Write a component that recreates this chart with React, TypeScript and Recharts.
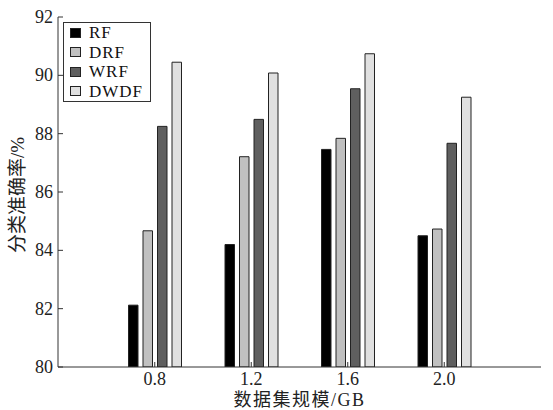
import React from 'react'
import { BarChart, Bar, XAxis, YAxis, Legend } from 'recharts'

const CATEGORIES = ['0.8', '1.2', '1.6', '2.0']
const RF = [82.12, 84.2, 87.46, 84.5]
const DRF = [84.67, 87.21, 87.84, 84.73]
const WRF = [88.25, 88.49, 89.54, 87.67]
const DWDF = [90.45, 90.08, 90.74, 89.25]
const Y_TICKS = [80, 82, 84, 86, 88, 90, 92]

const SERIES = [
  { key: 'RF', fill: '#000000' },
  { key: 'DRF', fill: '#c0c0c0' },
  { key: 'WRF', fill: '#5f5f5f' },
  { key: 'DWDF', fill: '#e0e0e0' },
]

const data = CATEGORIES.map((size, i) => ({
  size,
  RF: RF[i],
  DRF: DRF[i],
  WRF: WRF[i],
  DWDF: DWDF[i],
}))

const FONT = '"Liberation Serif", "Noto Sans CJK SC", serif'
const AXIS = '#333'

// ticks point inward, labels sit outside
function YTick(props: any) {
  const { x, y, payload } = props
  return (
    <g>
      <line x1={x} y1={y} x2={x + 5} y2={y} stroke={AXIS} />
      <text x={x - 5} y={y} dy={6} textAnchor="end" fontSize={18} fontFamily={FONT} fill="#222">
        {payload.value}
      </text>
    </g>
  )
}

function XTick(props: any) {
  const { x, y, payload } = props
  return (
    <g>
      <line x1={x} y1={y} x2={x} y2={y - 5} stroke={AXIS} />
      <text x={x} y={y} dy={18} textAnchor="middle" fontSize={18} fontFamily={FONT} fill="#222">
        {payload.value}
      </text>
    </g>
  )
}

function LegendBox() {
  return (
    <div
      style={{
        border: '1px solid #333',
        background: '#fff',
        padding: '0 7px 0 6px',
        fontFamily: FONT,
        fontSize: 17,
        lineHeight: '19.5px',
        letterSpacing: 1,
        color: '#111',
      }}
    >
      {SERIES.map((s) => (
        <div key={s.key} style={{ display: 'flex', alignItems: 'center', height: 19.5 }}>
          <span
            style={{
              width: 9,
              height: 8,
              background: s.fill,
              border: '1px solid #222',
              marginRight: 8,
              display: 'inline-block',
            }}
          />
          <span>{s.key}</span>
        </div>
      ))}
    </div>
  )
}

export default function App() {
  return (
    <div style={{ position: 'absolute', left: 0, top: 0, background: '#fff' }}>
      <BarChart
        width={553}
        height={410}
        data={data}
        margin={{ top: 17, right: 12, left: 0, bottom: 0 }}
        barSize={9.5}
        barGap={5}
      >
        <XAxis
          dataKey="size"
          height={43}
          padding={{ left: 48.5, right: 48.5 }}
          tickSize={0}
          tickMargin={0}
          tickLine={false}
          axisLine={{ stroke: AXIS }}
          tick={<XTick />}
          label={{
            value: '数据集规模/GB',
            position: 'insideBottom',
            offset: 0,
            dy: -4,
            fontSize: 18,
            fontFamily: FONT,
            fill: '#222',
            style: { letterSpacing: 1.5 },
          }}
        />
        <XAxis xAxisId="top" dataKey="size" orientation="top" height={0} tick={false} tickLine={false} axisLine={{ stroke: AXIS }} />
        <YAxis
          width={58}
          domain={[80, 92]}
          ticks={Y_TICKS}
          allowDataOverflow
          tickSize={0}
          tickMargin={0}
          tickLine={false}
          axisLine={{ stroke: AXIS }}
          tick={<YTick />}
          label={{
            value: '分类准确率/%',
            angle: -90,
            position: 'insideLeft',
            offset: 0,
            dx: 17,
            dy: 3,
            fontSize: 19,
            fontFamily: FONT,
            fill: '#222',
            style: { textAnchor: 'middle' },
          }}
        />
        <YAxis yAxisId="right" orientation="right" width={0} domain={[80, 92]} tick={false} tickLine={false} axisLine={{ stroke: AXIS }} />
        <Legend
          layout="vertical"
          align="center"
          verticalAlign="middle"
          content={<LegendBox />}
          wrapperStyle={{ left: 63, top: 22, width: 'auto' }}
        />
        {SERIES.map((s) => (
          <Bar key={s.key} dataKey={s.key} fill={s.fill} stroke="#222" strokeWidth={1} isAnimationActive={false} />
        ))}
      </BarChart>
    </div>
  )
}
